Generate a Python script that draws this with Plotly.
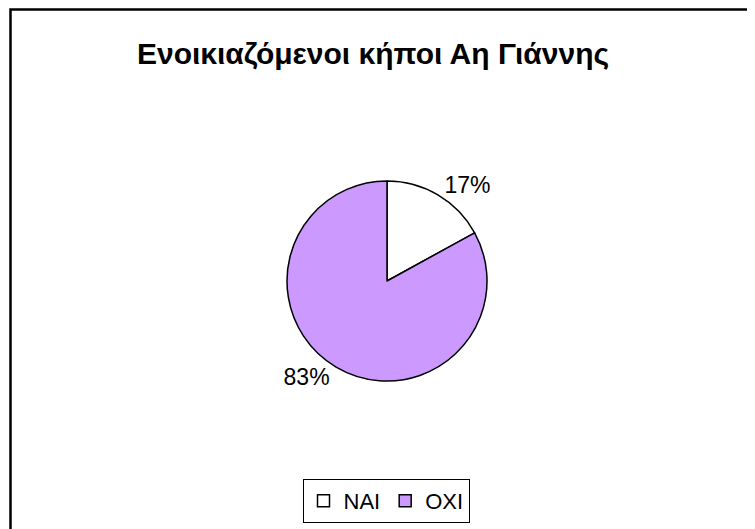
import plotly.graph_objects as go

W, H = 755, 529
OFF = 8  # page body margin

labels = ["ΝΑΙ", "ΟΧΙ"]
values = [17, 83]
colors = ["#FFFFFF", "#CC99FF"]
title_text = "Ενοικιαζόμενοι κήποι Αη Γιάννης"

cx, cy, half = 387 - OFF, 281 - OFF, 100

fig = go.Figure(go.Pie(
    labels=labels,
    values=values,
    sort=False,
    direction="clockwise",
    rotation=0,
    textinfo="percent",
    textposition="outside",
    textfont=dict(size=23, color="black"),
    marker=dict(colors=colors, line=dict(color="black", width=1.5)),
    domain=dict(x=[(cx - half) / W, (cx + half) / W],
                y=[(H - cy - half) / H, (H - cy + half) / H]),
))

fig.update_layout(
    width=W, height=H,
    margin=dict(l=0, r=0, t=0, b=0),
    paper_bgcolor="white",
    font=dict(family="Liberation Sans, Arial, sans-serif", color="black"),
    title=dict(text="<b>" + title_text + "</b>", x=(373 - OFF) / W, xanchor="center",
               y=1 - (53 - OFF) / H, yanchor="middle", font=dict(size=30)),
    legend=dict(orientation="h", x=(386 - OFF) / W, xanchor="center",
                y=1 - (501 - OFF) / H, yanchor="middle",
                bordercolor="black", borderwidth=1, font=dict(size=22),
                itemwidth=30, tracegroupgap=0),
    shapes=[dict(type="rect", xref="paper", yref="paper",
                 x0=2.5 / W, x1=1.05, y0=-0.05, y1=1 - 1.5 / H,
                 line=dict(color="black", width=2.5))],
)

fig.write_html("out.html")
